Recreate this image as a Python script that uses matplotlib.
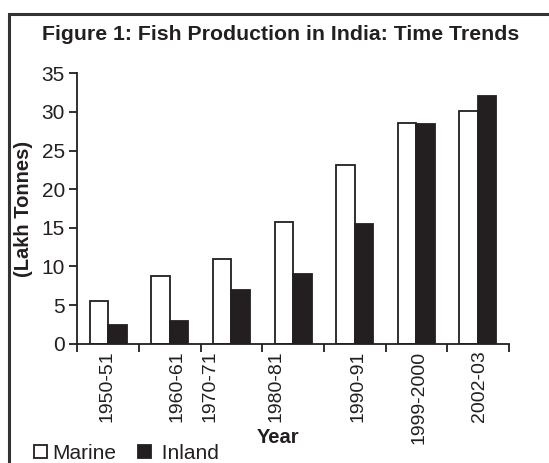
import matplotlib
matplotlib.use('Agg')
from matplotlib import pyplot as plt
from matplotlib.patches import Rectangle, Patch
import numpy as np

years = ['1950-51', '1960-61', '1970-71', '1980-81', '1990-91', '1999-2000', '2002-03']
marine = [5.5, 8.8, 10.9, 15.7, 23.1, 28.6, 30.1]
inland = [2.4, 2.9, 6.9, 9.0, 15.5, 28.4, 32.1]

# the tick labels in the source are nudged off their category centre
label_shift = [-0.02, 0.11, -0.35, -0.27, 0.06, 0.05, 0.02]

ink = '#231f20'
plt.rcParams['font.family'] = ['Liberation Sans', 'DejaVu Sans']

fig = plt.figure(figsize=(5.49, 4.63), dpi=100)
ax = fig.add_axes([0.1408, 0.2577, 0.786, 0.584])

x = np.arange(len(years)) + 0.5
w = 0.30
ax.bar(x - w / 2, marine, w, color='white', edgecolor=ink, linewidth=1.3, label='Marine')
ax.bar(x + w / 2, inland, w, color=ink, edgecolor=ink, linewidth=1.3, label='Inland')

ax.set_xlim(0, len(years))
ax.set_ylim(0, 35)
ax.set_yticks(range(0, 36, 5))
ax.set_xticks(x + np.array(label_shift))
ax.set_xticklabels(years, rotation=90, fontsize=14)
ax.set_xticks(np.arange(len(years) + 1), minor=True)
ax.tick_params(axis='x', which='major', length=0, pad=5, colors=ink)
ax.tick_params(axis='x', which='minor', length=6, width=1.3, direction='out', color=ink)
ax.tick_params(axis='y', length=6, width=1.3, pad=3, labelsize=15, colors=ink)

for s in ('top', 'right'):
    ax.spines[s].set_visible(False)
for s in ('left', 'bottom'):
    ax.spines[s].set_color(ink)
    ax.spines[s].set_linewidth(1.3)

ax.set_ylabel('(Lakh Tonnes)', fontsize=14.5, fontweight='bold', color=ink, labelpad=6)
fig.text(0.506, 0.056, 'Year', ha='center', va='center', fontsize=14.5,
         fontweight='bold', color=ink)
fig.text(0.512, 0.925, 'Figure 1: Fish Production in India: Time Trends',
         ha='center', va='center', fontsize=15.3, fontweight='bold', color=ink)

handles = [Patch(facecolor='white', edgecolor=ink, linewidth=1.3, label='Marine'),
           Patch(facecolor=ink, edgecolor=ink, linewidth=1.3, label=' Inland')]
fig.legend(handles=handles, loc='lower left', bbox_to_anchor=(0.043, -0.022),
           ncol=2, frameon=False, fontsize=15, handlelength=0.62, handleheight=0.62,
           handletextpad=0.25, columnspacing=1.05, borderpad=0, labelcolor=ink)

# page frame, only left and top edges fall inside the crop
fig.patches.append(Rectangle((9 / 549, -0.2), 1.2, 1.2 - 14 / 463, transform=fig.transFigure,
                             fill=False, edgecolor='#333333', linewidth=2.2))

fig.savefig('out.png', dpi=100)
